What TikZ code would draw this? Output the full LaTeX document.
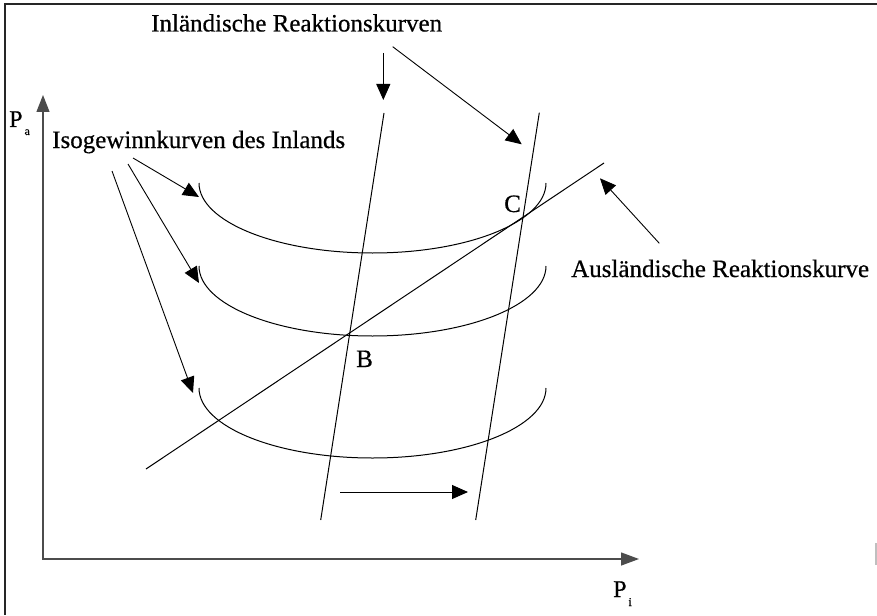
\documentclass[tikz,border=0pt]{standalone}
\usepackage{fontspec}
\setmainfont{Liberation Serif}[FakeBold=0.5]
\usetikzlibrary{arrows.meta}
\begin{document}
\begin{tikzpicture}[x=1pt,y=-1pt,
  curve/.style={line width=1pt},
  lbl/.style={font=\fontsize{25}{28}\selectfont, inner sep=0pt, anchor=base west},
  axlbl/.style={font=\fontsize{24}{26}\selectfont, inner sep=0pt, anchor=base west},
  ptr/.style={line width=0.9pt, -{Triangle[length=16pt,width=14pt]}},
  axis/.style={line width=1.3pt, black!70, {Triangle[length=17pt,width=13pt]}-{Triangle[length=18pt,width=13pt]}},
  frame/.style={line width=2pt, black!85}]
\useasboundingbox (0,0) rectangle (877,615);
% frame remnants
\coordinate (f1) at (5,4);
\coordinate (f2) at (877,4);
\coordinate (f3) at (5,615);
\draw[frame] (f2) -- (f1) -- (f3);
\coordinate (r1) at (876,543);
\coordinate (r2) at (876,565);
\draw[line width=1.2pt, black!25] (r1) -- (r2);
% axes
\coordinate (O) at (43,559);
\coordinate (Ytip) at (43,95);
\coordinate (Xtip) at (639,559);
\draw[axis] (Ytip) -- (O) -- (Xtip);
\node[axlbl] (pa) at (9,127) {P\raisebox{-8pt}{\fontsize{12}{12}\selectfont\hspace{2pt}a}};
\node[axlbl] (pi) at (613,597) {P\raisebox{-9pt}{\fontsize{12}{12}\selectfont\hspace{2pt}i}};
% isoprofit curves
\coordinate (I1) at (199,183);
\coordinate (I2) at (199,266);
\coordinate (I3) at (199,388);
\draw[curve] (I1) arc[start angle=180, end angle=0, x radius=173.5, y radius=70];
\draw[curve] (I2) arc[start angle=180, end angle=0, x radius=173.5, y radius=70];
\draw[curve] (I3) arc[start angle=180, end angle=0, x radius=173.5, y radius=70];
% domestic reaction curves
\coordinate (R1t) at (384,113);
\coordinate (R1b) at (320.7,520);
\coordinate (R2t) at (539.3,112.7);
\coordinate (R2b) at (475.7,520);
\draw[curve] (R1t) -- (R1b);
\draw[curve] (R2t) -- (R2b);
% foreign reaction curve
\coordinate (Ab) at (146,469);
\coordinate (At) at (604,163);
\draw[curve] (Ab) -- (At);
% labels
\node[lbl] (inl) at (151,31.5) {Inländische Reaktionskurven};
\node[lbl] (iso) at (52,148) {Isogewinnkurven des Inlands};
\node[lbl] (aus) at (571,277) {Ausländische Reaktionskurve};
\node[lbl] (B) at (356,367) {B};
\node[lbl] (C) at (504,212) {C};
% pointer arrows
\coordinate (p1s) at (383.3,53);   \coordinate (p1e) at (383.3,100);
\coordinate (p2s) at (392.7,46.7); \coordinate (p2e) at (521.7,144.3);
\coordinate (q1s) at (133,158);    \coordinate (q1e) at (199,197);
\coordinate (q2s) at (128,164);    \coordinate (q2e) at (199,283);
\coordinate (q3s) at (112,171);    \coordinate (q3e) at (193,393);
\coordinate (as) at (659.3,243.3); \coordinate (ae) at (600,178.3);
\coordinate (ss) at (340,492);     \coordinate (se) at (468,492);
\draw[ptr] (p1s) -- (p1e);
\draw[ptr] (p2s) -- (p2e);
\draw[ptr] (q1s) -- (q1e);
\draw[ptr] (q2s) -- (q2e);
\draw[ptr] (q3s) -- (q3e);
\draw[ptr] (as) -- (ae);
\draw[ptr] (ss) -- (se);
\end{tikzpicture}
\end{document}
